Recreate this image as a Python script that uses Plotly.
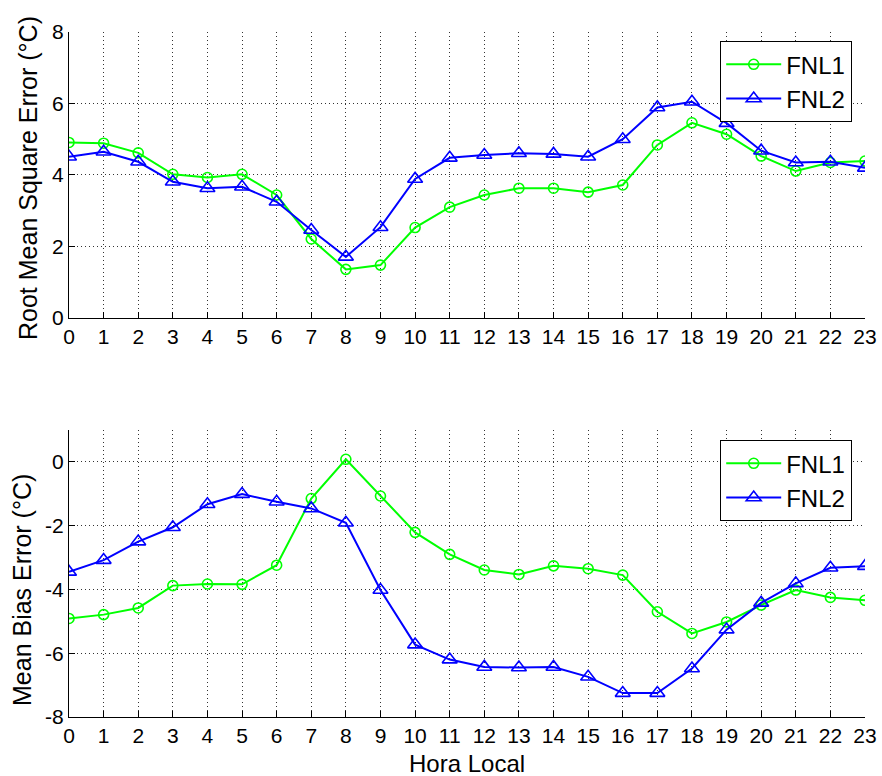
import plotly.graph_objects as go

hours = list(range(24))
rmse_fnl1 = [4.91, 4.89, 4.62, 4.02, 3.93, 4.02, 3.44, 2.21, 1.36, 1.48, 2.53, 3.10,
             3.44, 3.63, 3.63, 3.52, 3.72, 4.84, 5.46, 5.14, 4.53, 4.11, 4.35, 4.39]
rmse_fnl2 = [4.51, 4.65, 4.37, 3.81, 3.63, 3.67, 3.25, 2.46, 1.71, 2.54, 3.89, 4.48,
             4.56, 4.61, 4.59, 4.51, 5.00, 5.89, 6.05, 5.45, 4.68, 4.35, 4.37, 4.20]
mbe_fnl1 = [-4.91, -4.79, -4.58, -3.88, -3.83, -3.84, -3.24, -1.15, 0.08, -1.07, -2.21, -2.90,
            -3.39, -3.53, -3.26, -3.35, -3.55, -4.70, -5.38, -5.02, -4.49, -4.02, -4.25, -4.34]
mbe_fnl2 = [-3.45, -3.08, -2.50, -2.05, -1.33, -1.01, -1.25, -1.46, -1.91, -4.02, -5.73, -6.20,
            -6.43, -6.45, -6.43, -6.74, -7.25, -7.25, -6.48, -5.26, -4.42, -3.81, -3.32, -3.27]
rmse_ticks = [0, 2, 4, 6, 8]
mbe_ticks = [-8, -6, -4, -2, 0]

GREEN = "#00FF00"
BLUE = "#0000FF"
FONT = "Liberation Sans, Arial, sans-serif"

fig = go.Figure()

def add(x, y, name, color, symbol, size, xa, ya, legend):
    fig.add_trace(go.Scatter(
        x=x, y=y, name=name, mode="lines+markers", xaxis=xa, yaxis=ya, legend=legend,
        line=dict(color=color, width=2),
        marker=dict(symbol=symbol, size=size, color=color, line=dict(color=color, width=1.6)),
    ))

add(hours, rmse_fnl1, "FNL1", GREEN, "circle-open", 10, "x", "y", "legend")
add(hours, rmse_fnl2, "FNL2", BLUE, "triangle-up-open", 13, "x", "y", "legend")
add(hours, mbe_fnl1, "FNL1", GREEN, "circle-open", 10, "x2", "y2", "legend2")
add(hours, mbe_fnl2, "FNL2", BLUE, "triangle-up-open", 13, "x2", "y2", "legend2")

axis_common = dict(
    showline=True, linecolor="black", linewidth=1.2, mirror=False,
    ticks="inside", ticklen=6, tickcolor="black", tickwidth=1,
    showgrid=True, gridcolor="#333333", griddash="1px,3px", gridwidth=1,
    zeroline=False, automargin=False,
    tickfont=dict(family=FONT, size=21, color="black"),
)

legend_common = dict(xanchor="left", yanchor="top", bgcolor="white", bordercolor="black",
                     borderwidth=1.2, font=dict(family=FONT, size=24, color="black"),
                     itemwidth=55)

fig.update_layout(
    width=882, height=776,
    margin=dict(l=69, r=17, t=32, b=59),
    paper_bgcolor="white", plot_bgcolor="white",
    showlegend=True,
    xaxis=dict(domain=[0, 1], range=[0, 23], tickvals=hours, ticktext=[str(h) for h in hours],
               anchor="y", **axis_common),
    yaxis=dict(domain=[0.5825, 1], range=[0, 8], tickvals=rmse_ticks,
               ticktext=[str(v) for v in rmse_ticks], anchor="x", **axis_common),
    xaxis2=dict(domain=[0, 1], range=[0, 23], tickvals=hours, ticktext=[str(h) for h in hours],
                anchor="y2", **axis_common),
    yaxis2=dict(domain=[0, 0.419], range=[-8, 1], tickvals=mbe_ticks,
                ticktext=[str(v) for v in mbe_ticks], anchor="x2", **axis_common),
    legend=dict(x=(720 - 69) / 796, y=(717 - 41) / 685, **legend_common),
    legend2=dict(x=(720 - 69) / 796, y=(717 - 440) / 685, **legend_common),
    annotations=[
        dict(text="Root Mean Square Error (°C)", textangle=-90, xref="paper", yref="paper",
             x=(28 - 69) / 796, y=(717 - 178) / 685, xanchor="center", yanchor="middle",
             showarrow=False, font=dict(family=FONT, size=25, color="black")),
        dict(text="Mean Bias Error (°C)", textangle=-90, xref="paper", yref="paper",
             x=(22 - 69) / 796, y=(717 - 590) / 685, xanchor="center", yanchor="middle",
             showarrow=False, font=dict(family=FONT, size=25, color="black")),
        dict(text="Hora Local", xref="paper", yref="paper",
             x=0.5, y=(717 - 763) / 685, xanchor="center", yanchor="middle",
             showarrow=False, font=dict(family=FONT, size=24, color="black")),
    ],
)

fig.write_html("out.html", config={"displayModeBar": False},
               post_script="document.body.style.margin='0';")
